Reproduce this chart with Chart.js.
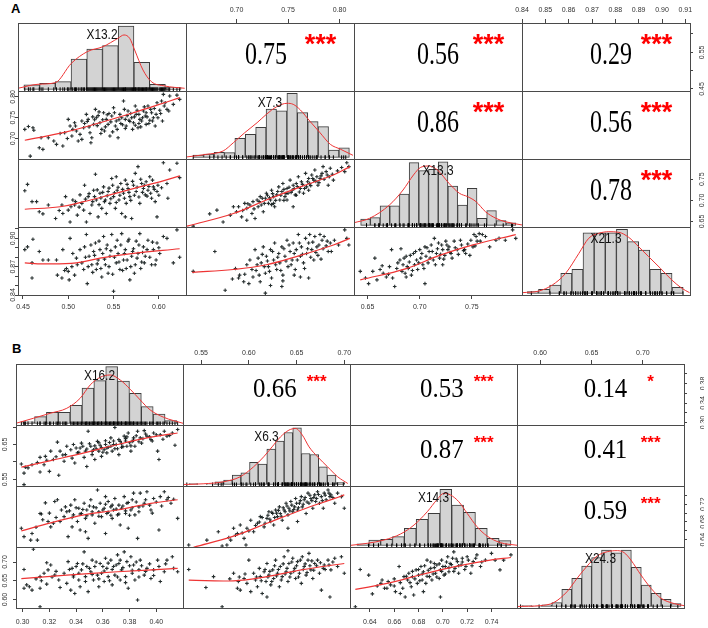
<!DOCTYPE html>
<html>
<head>
<meta charset="utf-8">
<script src="https://cdn.jsdelivr.net/npm/chart.js@4.4.1/dist/chart.umd.min.js"></script>
<style>
  body { margin: 0; background: #fff; width: 708px; height: 628px; overflow: hidden; position: relative; }
  canvas { position: absolute; }
  .tag { position: absolute; font: bold 13px "Liberation Sans", Arial, sans-serif; line-height: 13px; }
</style>
</head>
<body>
<div class="tag" style="left:11px; top:2px">A</div>
<div class="tag" style="left:12px; top:342px">B</div>
<script>
// ---------- panel A ----------
const varsA = ['X13.2', 'X7.3', 'X13.3', 'X21.3'];
const rangesA = [[0.4445, 0.630], [0.651, 0.814], [0.637, 0.798], [0.840, 0.912]];
const ticksA = [[0.45, 0.50, 0.55, 0.60], [0.70, 0.75, 0.80], [0.65, 0.70, 0.75], [0.84, 0.85, 0.86, 0.87, 0.88, 0.89, 0.90, 0.91]];
const xLabelsA = [['0.45', '0.50', '0.55', '0.60'], ['0.70', '0.75', '0.80'], ['0.65', '0.70', '0.75'],
  ['0.84', '0.85', '0.86', '0.87', '0.88', '0.89', '0.90', '0.91']];
const yLabelsA = [['0.45', '', '0.55', ''], ['0.70', '0.75', '0.80'], ['0.65', '0.70', '0.75'],
  ['0.84', '', '', '0.87', '', '', '0.90', '']];
const rA = [0.75, 0.56, 0.29, 0.86, 0.56, 0.78];
const starsA = ['***', '***', '***', '***', '***', '***'];

// histogram bars, heights in % of panel height
const histStartA = [0.451, 0.658, 0.6434, 0.8423];
const histWidthA = [0.01736, 0.0101, 0.00929, 0.00477];
const histA = [
  [6.4, 8.8, 11.3, 44.6, 59.3, 64.2, 93.1, 39.7, 7.4, 2.5],
  [3.4, 4.9, 7.4, 6.8, 27.9, 33.8, 44.1, 71.0, 68.5, 94.1, 65.6, 52.4, 45.0, 10.7, 14.1],
  [9.3, 11.2, 28.8, 28.8, 46.0, 92.1, 80.3, 82.4, 93.5, 57.8, 29.9, 54.4, 10.3, 21.5, 6.8, 3.8],
  [2.4, 5.9, 12.2, 29.4, 35.3, 89.1, 89.1, 89.1, 94.1, 75.9, 63.7, 35.3, 29.4, 8.8]
];
const densA = [
  [[0.4445, 1.5], [0.4666, 7.4], [0.4857, 9.8], [0.5034, 38.2], [0.5210, 55.4], [0.5383, 62.7], [0.5549, 75.0], [0.5615, 79.9], [0.5678, 75.0], [0.5733, 57.8], [0.5825, 28.4], [0.5917, 11.3], [0.6064, 4.9], [0.6285, 1.5]],
  [[0.651, 0.4], [0.671, 4.4], [0.687, 9.3], [0.697, 21.5], [0.708, 36.2], [0.720, 50.9], [0.729, 63.2], [0.739, 74.4], [0.749, 79.4], [0.755, 77.9], [0.762, 69.6], [0.771, 53.4], [0.781, 36.2], [0.791, 19.1], [0.801, 11.8], [0.813, 2.9]],
  [[0.637, 3.8], [0.652, 10.3], [0.671, 29.9], [0.684, 51.9], [0.694, 74.0], [0.701, 85.3], [0.709, 87.2], [0.717, 81.3], [0.728, 61.8], [0.738, 47.1], [0.746, 42.1], [0.754, 34.7], [0.763, 20.0], [0.773, 10.3], [0.782, 5.3], [0.798, 0.5]],
  [[0.840, 0.9], [0.8473, 3.4], [0.853, 12.2], [0.8587, 29.4], [0.8644, 58.8], [0.8686, 80.9], [0.8729, 88.2], [0.8772, 90.6], [0.8815, 89.7], [0.8857, 82.4], [0.890, 68.5], [0.8943, 53.8], [0.8993, 36.8], [0.9042, 19.6], [0.9085, 7.4], [0.9118, 0.9]]
];

const a21 = [[0.452,0.722],[0.456,0.729],[0.461,0.726],[0.462,0.720],[0.458,0.658],[0.468,0.678],[0.472,0.674],[0.470,0.702],[0.478,0.702],[0.487,0.686],[0.494,0.682],[0.496,0.714],[0.500,0.746],[0.502,0.730],[0.504,0.706],[0.507,0.738],[0.509,0.718],[0.513,0.710],[0.515,0.698],[0.517,0.726],[0.520,0.758],[0.522,0.746],[0.524,0.714],[0.526,0.702],[0.528,0.734],[0.530,0.770],[0.531,0.750],[0.535,0.738],[0.537,0.722],[0.539,0.762],[0.542,0.746],[0.544,0.734],[0.546,0.706],[0.548,0.754],[0.550,0.774],[0.552,0.730],[0.553,0.742],[0.555,0.702],[0.557,0.758],[0.561,0.790],[0.563,0.746],[0.564,0.730],[0.566,0.766],[0.570,0.750],[0.572,0.738],[0.574,0.778],[0.575,0.758],[0.577,0.726],[0.579,0.746],[0.583,0.766],[0.585,0.754],[0.586,0.734],[0.588,0.778],[0.592,0.762],[0.594,0.750],[0.596,0.730],[0.598,0.786],[0.601,0.768],[0.603,0.790],[0.605,0.806],[0.609,0.770],[0.612,0.802],[0.616,0.782],[0.620,0.804],[0.623,0.794],[0.533,0.755],[0.541,0.728],[0.549,0.716],[0.556,0.745],[0.560,0.733],[0.565,0.755],[0.568,0.741],[0.571,0.722],[0.576,0.768],[0.581,0.742],[0.584,0.776],[0.590,0.744],[0.595,0.772],[0.587,0.752],[0.578,0.736],[0.562,0.770],[0.545,0.760],[0.536,0.712],[0.525,0.690],[0.511,0.694],[0.505,0.722],[0.518,0.736],[0.529,0.745],[0.597,0.758],[0.606,0.778],
  [0.521,0.741],[0.523,0.728],[0.527,0.752],[0.532,0.731],[0.534,0.764],[0.538,0.745],[0.540,0.718],[0.543,0.757],[0.547,0.740],[0.551,0.762],[0.554,0.722],[0.558,0.736],[0.559,0.750],[0.563,0.724],[0.567,0.744],[0.569,0.760],[0.573,0.752],[0.574,0.732],[0.578,0.758],[0.580,0.728],[0.582,0.750],[0.586,0.762],[0.589,0.736],[0.591,0.770],[0.593,0.742],[0.599,0.750],[0.602,0.760],[0.604,0.742],[0.607,0.786],[0.611,0.766],[0.515,0.742],[0.508,0.730],[0.499,0.700],[0.491,0.712],[0.484,0.694]];
const a31 = [[0.452,0.723],[0.455,0.738],[0.460,0.697],[0.465,0.697],[0.468,0.673],[0.472,0.668],[0.478,0.689],[0.486,0.657],[0.493,0.689],[0.494,0.669],[0.497,0.709],[0.500,0.677],[0.502,0.649],[0.505,0.701],[0.507,0.689],[0.510,0.665],[0.513,0.713],[0.515,0.693],[0.517,0.677],[0.518,0.736],[0.520,0.649],[0.522,0.709],[0.524,0.669],[0.526,0.689],[0.528,0.724],[0.530,0.762],[0.531,0.701],[0.533,0.661],[0.535,0.717],[0.537,0.681],[0.539,0.732],[0.541,0.701],[0.542,0.669],[0.544,0.721],[0.546,0.693],[0.548,0.752],[0.549,0.736],[0.550,0.709],[0.552,0.681],[0.553,0.756],[0.554,0.724],[0.556,0.701],[0.558,0.740],[0.559,0.669],[0.561,0.717],[0.563,0.748],[0.564,0.693],[0.566,0.728],[0.568,0.709],[0.570,0.657],[0.572,0.736],[0.574,0.764],[0.575,0.721],[0.577,0.780],[0.579,0.693],[0.581,0.740],[0.583,0.728],[0.585,0.713],[0.586,0.744],[0.588,0.724],[0.590,0.756],[0.592,0.705],[0.594,0.732],[0.596,0.697],[0.598,0.721],[0.599,0.736],[0.605,0.789],[0.609,0.740],[0.612,0.772],[0.620,0.788],[0.623,0.754],[0.610,0.705],[0.598,0.661],[0.563,0.661],
  [0.519,0.703],[0.523,0.716],[0.527,0.697],[0.529,0.709],[0.532,0.725],[0.534,0.690],[0.536,0.706],[0.538,0.719],[0.540,0.697],[0.543,0.711],[0.545,0.729],[0.547,0.704],[0.551,0.718],[0.553,0.695],[0.555,0.731],[0.557,0.712],[0.560,0.726],[0.562,0.705],[0.565,0.738],[0.567,0.719],[0.569,0.700],[0.571,0.745],[0.573,0.712],[0.576,0.731],[0.578,0.708],[0.580,0.750],[0.582,0.719],[0.584,0.736],[0.587,0.710],[0.589,0.733],[0.591,0.717],[0.593,0.748],[0.595,0.726],[0.600,0.712],[0.603,0.730],[0.512,0.684],[0.508,0.697],[0.503,0.685],[0.490,0.676]];
const a41 = [[0.452,0.888],[0.455,0.891],[0.461,0.899],[0.460,0.874],[0.460,0.858],[0.468,0.886],[0.472,0.877],[0.478,0.877],[0.487,0.877],[0.493,0.858],[0.494,0.888],[0.498,0.868],[0.500,0.865],[0.501,0.856],[0.502,0.900],[0.504,0.870],[0.507,0.861],[0.509,0.879],[0.513,0.888],[0.515,0.874],[0.517,0.867],[0.518,0.891],[0.520,0.904],[0.521,0.852],[0.523,0.881],[0.526,0.872],[0.528,0.886],[0.530,0.895],[0.531,0.867],[0.533,0.877],[0.535,0.888],[0.537,0.859],[0.539,0.902],[0.541,0.872],[0.542,0.889],[0.544,0.863],[0.546,0.881],[0.548,0.904],[0.550,0.844],[0.552,0.891],[0.553,0.874],[0.554,0.898],[0.555,0.884],[0.557,0.867],[0.559,0.905],[0.561,0.877],[0.563,0.888],[0.564,0.868],[0.566,0.897],[0.568,0.856],[0.570,0.881],[0.572,0.889],[0.574,0.872],[0.575,0.897],[0.577,0.884],[0.579,0.905],[0.581,0.875],[0.583,0.891],[0.585,0.881],[0.588,0.898],[0.592,0.872],[0.594,0.888],[0.596,0.872],[0.598,0.895],[0.601,0.884],[0.605,0.902],[0.609,0.900],[0.616,0.874],[0.620,0.909],[0.623,0.880],
  [0.519,0.880],[0.522,0.870],[0.525,0.893],[0.527,0.864],[0.529,0.882],[0.532,0.873],[0.534,0.897],[0.536,0.868],[0.538,0.884],[0.540,0.878],[0.543,0.893],[0.545,0.870],[0.547,0.887],[0.549,0.862],[0.551,0.880],[0.556,0.875],[0.558,0.893],[0.560,0.866],[0.562,0.884],[0.565,0.877],[0.567,0.899],[0.569,0.870],[0.571,0.886],[0.573,0.863],[0.576,0.879],[0.578,0.893],[0.580,0.868],[0.582,0.885],[0.584,0.874],[0.587,0.888],[0.590,0.880],[0.593,0.896],[0.597,0.877],[0.600,0.890],[0.510,0.872],[0.505,0.884],[0.496,0.866],[0.488,0.861]];
const a32 = [[0.658,0.639],[0.674,0.668],[0.681,0.677],[0.687,0.649],[0.694,0.665],[0.697,0.685],[0.700,0.673],[0.702,0.685],[0.705,0.661],[0.708,0.693],[0.710,0.681],[0.710,0.653],[0.713,0.689],[0.715,0.669],[0.716,0.697],[0.718,0.657],[0.720,0.701],[0.721,0.685],[0.723,0.709],[0.724,0.689],[0.726,0.673],[0.728,0.705],[0.729,0.717],[0.731,0.693],[0.733,0.701],[0.734,0.724],[0.736,0.709],[0.736,0.693],[0.737,0.685],[0.739,0.713],[0.741,0.732],[0.742,0.701],[0.744,0.721],[0.745,0.740],[0.747,0.709],[0.749,0.728],[0.749,0.701],[0.750,0.717],[0.752,0.748],[0.754,0.724],[0.755,0.736],[0.755,0.685],[0.757,0.713],[0.758,0.740],[0.760,0.756],[0.762,0.728],[0.763,0.744],[0.765,0.717],[0.767,0.764],[0.768,0.732],[0.770,0.752],[0.771,0.740],[0.773,0.760],[0.775,0.748],[0.776,0.772],[0.778,0.756],[0.779,0.736],[0.781,0.752],[0.783,0.764],[0.784,0.780],[0.788,0.760],[0.789,0.736],[0.791,0.776],[0.794,0.748],[0.805,0.768],[0.807,0.789],[0.809,0.780],
  [0.722,0.697],[0.725,0.705],[0.727,0.693],[0.730,0.712],[0.732,0.706],[0.735,0.716],[0.738,0.700],[0.740,0.721],[0.743,0.712],[0.746,0.726],[0.748,0.716],[0.751,0.731],[0.753,0.719],[0.756,0.728],[0.759,0.733],[0.761,0.720],[0.764,0.738],[0.766,0.728],[0.769,0.744],[0.772,0.735],[0.774,0.752],[0.777,0.745],[0.780,0.742],[0.782,0.758],[0.785,0.750],[0.787,0.768],[0.790,0.756],[0.793,0.762],[0.746,0.700],[0.758,0.712],[0.770,0.724],[0.734,0.690],[0.717,0.680],[0.711,0.692],[0.706,0.676],[0.798,0.770],[0.802,0.778]];
const a42 = [[0.658,0.865],[0.679,0.886],[0.689,0.845],[0.699,0.868],[0.702,0.858],[0.703,0.861],[0.707,0.854],[0.710,0.872],[0.712,0.852],[0.713,0.877],[0.715,0.867],[0.716,0.859],[0.718,0.888],[0.720,0.872],[0.721,0.879],[0.723,0.854],[0.724,0.874],[0.726,0.891],[0.728,0.863],[0.728,0.842],[0.729,0.881],[0.731,0.870],[0.733,0.888],[0.734,0.858],[0.736,0.877],[0.737,0.895],[0.739,0.867],[0.741,0.884],[0.742,0.874],[0.744,0.891],[0.744,0.849],[0.745,0.861],[0.747,0.881],[0.749,0.898],[0.750,0.870],[0.752,0.886],[0.754,0.877],[0.755,0.895],[0.757,0.867],[0.758,0.888],[0.760,0.904],[0.762,0.881],[0.762,0.859],[0.763,0.891],[0.765,0.874],[0.767,0.900],[0.768,0.884],[0.770,0.895],[0.770,0.858],[0.771,0.904],[0.773,0.888],[0.775,0.877],[0.776,0.902],[0.778,0.891],[0.779,0.882],[0.781,0.904],[0.783,0.898],[0.784,0.889],[0.788,0.897],[0.789,0.886],[0.791,0.895],[0.805,0.909],[0.807,0.900],[0.809,0.893],
  [0.719,0.866],[0.722,0.861],[0.725,0.883],[0.727,0.870],[0.730,0.876],[0.732,0.865],[0.735,0.886],[0.738,0.872],[0.740,0.880],[0.743,0.866],[0.746,0.889],[0.748,0.876],[0.751,0.893],[0.753,0.872],[0.756,0.884],[0.759,0.877],[0.761,0.895],[0.764,0.883],[0.766,0.868],[0.769,0.889],[0.772,0.880],[0.774,0.896],[0.777,0.885],[0.780,0.893],[0.782,0.878],[0.785,0.902],[0.787,0.892],[0.792,0.886],[0.795,0.898],[0.799,0.893],[0.733,0.850],[0.745,0.855],[0.756,0.861],[0.708,0.862],[0.696,0.857]];
const a43 = [[0.643,0.865],[0.651,0.852],[0.657,0.879],[0.659,0.856],[0.662,0.867],[0.665,0.863],[0.668,0.859],[0.671,0.870],[0.673,0.888],[0.674,0.858],[0.676,0.849],[0.678,0.868],[0.681,0.877],[0.682,0.889],[0.684,0.872],[0.686,0.863],[0.687,0.881],[0.687,0.859],[0.689,0.868],[0.690,0.875],[0.692,0.861],[0.694,0.884],[0.695,0.872],[0.697,0.877],[0.698,0.867],[0.700,0.888],[0.701,0.879],[0.703,0.872],[0.705,0.891],[0.705,0.852],[0.706,0.881],[0.708,0.874],[0.709,0.886],[0.711,0.893],[0.713,0.877],[0.714,0.900],[0.716,0.884],[0.717,0.889],[0.719,0.879],[0.721,0.893],[0.722,0.888],[0.722,0.872],[0.724,0.882],[0.725,0.897],[0.727,0.888],[0.728,0.891],[0.730,0.884],[0.733,0.897],[0.736,0.888],[0.740,0.893],[0.743,0.888],[0.744,0.884],[0.749,0.898],[0.751,0.891],[0.752,0.904],[0.754,0.902],[0.755,0.897],[0.757,0.905],[0.760,0.904],[0.767,0.891],[0.773,0.898],[0.776,0.900],[0.782,0.898],[0.789,0.909],[0.792,0.900],
  [0.679,0.874],[0.683,0.865],[0.685,0.879],[0.688,0.870],[0.691,0.882],[0.693,0.866],[0.696,0.886],[0.699,0.874],[0.702,0.884],[0.704,0.868],[0.707,0.890],[0.710,0.879],[0.712,0.886],[0.715,0.872],[0.718,0.895],[0.720,0.883],[0.723,0.878],[0.726,0.893],[0.729,0.885],[0.731,0.879],[0.734,0.890],[0.737,0.883],[0.739,0.898],[0.742,0.887],[0.746,0.894],[0.748,0.882],[0.753,0.892],[0.758,0.897],[0.763,0.902],[0.670,0.862],[0.664,0.871],[0.655,0.865],[0.648,0.858]];
// red smoothers
const a21Fit = [[0.452,0.696],[0.498,0.716],[0.535,0.738],[0.572,0.762],[0.598,0.780],[0.623,0.798]];
const a31Fit = [[0.452,0.679],[0.491,0.685],[0.517,0.697],[0.546,0.713],[0.579,0.732],[0.601,0.744],[0.623,0.758]];
const a41Fit = [[0.452,0.874],[0.472,0.873],[0.509,0.874],[0.535,0.879],[0.572,0.884],[0.623,0.889]];
const a32Fit = [[0.652,0.639],[0.697,0.669],[0.729,0.701],[0.762,0.732],[0.794,0.760],[0.810,0.780]];
const a42Fit = [[0.657,0.864],[0.697,0.867],[0.729,0.872],[0.762,0.882],[0.794,0.893],[0.810,0.900]];
const a43Fit = [[0.643,0.856],[0.687,0.868],[0.719,0.882],[0.751,0.893],[0.792,0.904]];

// ---------- panel B ----------
const varsB = ['X16.2', 'X6.3', 'X14.3', 'X24.3'];
const rangesB = [[0.295, 0.420], [0.531, 0.706], [0.6236, 0.761], [0.5775, 0.740]];
const ticksB = [[0.30, 0.32, 0.34, 0.36, 0.38, 0.40], [0.55, 0.60, 0.65, 0.70], [0.64, 0.66, 0.68, 0.70, 0.72, 0.74], [0.60, 0.65, 0.70]];
const xLabelsB = [['0.30', '0.32', '0.34', '0.36', '0.38', '0.40'], ['0.55', '0.60', '0.65', '0.70'],
  ['0.64', '0.66', '0.68', '0.70', '0.72', '0.74'], ['0.60', '0.65', '0.70']];
const yLabelsB = [['0.30', '', '0.34', '', '0.38', ''], ['0.55', '', '0.65', ''],
  ['0.64', '', '0.68', '', '0.72', ''], ['0.60', '0.65', '0.70']];
const rB = [0.66, 0.53, 0.14, 0.87, 0.41, 0.59];
const starsB = ['***', '***', '*', '***', '***', '***'];

const histStartB = [0.300, 0.5373, 0.6293, 0.5824];
const histWidthB = [0.00888, 0.00906, 0.00975, 0.00967];
const histB = [
  [2.5, 11.2, 18.3, 18.3, 29.8, 58.2, 70.2, 93.1, 69.7, 49.5, 27.5, 15.6, 4.6],
  [1.5, 0.0, 0.8, 4.4, 7.1, 15.3, 19.1, 36.1, 33.3, 57.9, 71.0, 85.2, 92.9, 50.8, 49.2, 29.0, 15.3, 3.3],
  [2.5, 9.0, 10.1, 14.4, 28.2, 42.9, 52.7, 92.1, 66.4, 54.4, 28.2, 11.8, 7.9],
  [1.4, 0.8, 2.5, 6.3, 28.2, 46.2, 66.4, 80.0, 92.6, 88.0, 92.6, 64.2, 35.2, 21.6, 11.8, 4.6]
];
const densB = [
  [[0.295, 0.3], [0.308, 8.5], [0.3205, 16.7], [0.333, 24.9], [0.343, 41.3], [0.3505, 63.1], [0.358, 75.7], [0.3655, 79.5], [0.373, 71.3], [0.3805, 56.1], [0.388, 38.5], [0.3955, 22.1], [0.4055, 10.2], [0.420, 0.3]],
  [[0.531, 0.0], [0.5521, 1.1], [0.5733, 4.4], [0.5909, 12.6], [0.605, 29.0], [0.6156, 45.4], [0.6244, 61.7], [0.6332, 78.1], [0.642, 89.1], [0.649, 91.8], [0.6561, 80.9], [0.6631, 61.7], [0.672, 45.4], [0.6825, 29.0], [0.6931, 12.6], [0.7037, 1.6]],
  [[0.6244, 0.3], [0.638, 3.6], [0.6517, 9.0], [0.6653, 18.9], [0.6763, 33.6], [0.6872, 55.4], [0.6954, 75.7], [0.7008, 85.5], [0.7063, 82.8], [0.7131, 71.8], [0.720, 52.7], [0.7281, 30.8], [0.7363, 15.6], [0.7472, 4.7], [0.7612, 0.3]],
  [[0.5775, 0.0], [0.6001, 1.4], [0.6132, 6.3], [0.6262, 24.3], [0.636, 46.2], [0.6458, 66.4], [0.6556, 82.8], [0.6654, 89.8], [0.6752, 91.5], [0.6818, 88.2], [0.6883, 76.2], [0.6981, 51.6], [0.7079, 29.8], [0.7177, 13.4], [0.7308, 4.6], [0.7413, 1.0]]
];

const b21 = [[0.299,0.594],[0.301,0.568],[0.302,0.585],[0.301,0.535],[0.304,0.583],[0.307,0.592],[0.313,0.613],[0.313,0.571],[0.316,0.592],[0.317,0.616],[0.320,0.573],[0.321,0.631],[0.323,0.607],[0.326,0.657],[0.327,0.562],[0.328,0.631],[0.331,0.602],[0.332,0.621],[0.333,0.645],[0.336,0.635],[0.337,0.611],[0.338,0.650],[0.339,0.597],[0.341,0.626],[0.343,0.640],[0.344,0.654],[0.346,0.613],[0.347,0.631],[0.348,0.587],[0.349,0.688],[0.351,0.645],[0.352,0.621],[0.353,0.635],[0.354,0.607],[0.356,0.659],[0.357,0.631],[0.358,0.648],[0.359,0.616],[0.361,0.635],[0.362,0.661],[0.363,0.626],[0.364,0.642],[0.366,0.669],[0.367,0.631],[0.368,0.650],[0.369,0.699],[0.371,0.638],[0.372,0.621],[0.373,0.659],[0.374,0.642],[0.376,0.674],[0.377,0.667],[0.378,0.645],[0.379,0.683],[0.381,0.631],[0.382,0.659],[0.383,0.669],[0.384,0.645],[0.386,0.688],[0.388,0.669],[0.389,0.654],[0.391,0.690],[0.393,0.674],[0.396,0.664],[0.398,0.683],[0.401,0.631],[0.402,0.607],[0.403,0.678],[0.406,0.688],[0.408,0.674],[0.412,0.683],[0.414,0.648],[0.416,0.693],
  [0.340,0.640],[0.342,0.628],[0.345,0.645],[0.348,0.637],[0.350,0.652],[0.352,0.630],[0.354,0.646],[0.355,0.638],[0.357,0.655],[0.359,0.641],[0.360,0.628],[0.362,0.650],[0.363,0.640],[0.365,0.656],[0.366,0.645],[0.368,0.660],[0.369,0.638],[0.370,0.650],[0.372,0.664],[0.374,0.652],[0.375,0.644],[0.377,0.660],[0.378,0.672],[0.380,0.655],[0.381,0.646],[0.383,0.662],[0.385,0.675],[0.387,0.658],[0.390,0.667],[0.392,0.680],[0.395,0.672],[0.397,0.660],[0.400,0.678],[0.405,0.665],[0.410,0.676],[0.330,0.620],[0.325,0.615],[0.318,0.605],[0.311,0.598]];
const b31 = [[0.299,0.666],[0.301,0.647],[0.306,0.639],[0.307,0.654],[0.311,0.639],[0.313,0.699],[0.314,0.698],[0.317,0.723],[0.319,0.681],[0.321,0.669],[0.323,0.677],[0.324,0.726],[0.326,0.730],[0.328,0.681],[0.329,0.707],[0.331,0.692],[0.332,0.714],[0.333,0.703],[0.334,0.647],[0.336,0.718],[0.337,0.669],[0.338,0.696],[0.339,0.730],[0.341,0.681],[0.342,0.711],[0.343,0.662],[0.344,0.699],[0.346,0.722],[0.347,0.688],[0.347,0.658],[0.348,0.707],[0.349,0.643],[0.351,0.730],[0.352,0.696],[0.353,0.714],[0.354,0.677],[0.356,0.752],[0.357,0.703],[0.358,0.722],[0.359,0.692],[0.361,0.711],[0.362,0.737],[0.362,0.654],[0.363,0.699],[0.364,0.726],[0.366,0.714],[0.367,0.688],[0.368,0.707],[0.369,0.733],[0.371,0.696],[0.372,0.718],[0.373,0.673],[0.374,0.711],[0.376,0.737],[0.377,0.699],[0.378,0.722],[0.379,0.666],[0.381,0.707],[0.382,0.730],[0.383,0.745],[0.384,0.696],[0.386,0.643],[0.387,0.714],[0.388,0.745],[0.391,0.722],[0.393,0.748],[0.396,0.707],[0.398,0.733],[0.402,0.662],[0.403,0.737],[0.406,0.748],[0.408,0.730],[0.411,0.722],[0.413,0.731],[0.416,0.688],
  [0.335,0.705],[0.337,0.690],[0.340,0.712],[0.343,0.698],[0.345,0.708],[0.348,0.694],[0.350,0.716],[0.352,0.703],[0.355,0.712],[0.357,0.693],[0.360,0.707],[0.362,0.720],[0.364,0.702],[0.366,0.695],[0.367,0.718],[0.370,0.709],[0.372,0.698],[0.375,0.716],[0.377,0.705],[0.379,0.724],[0.380,0.695],[0.382,0.712],[0.385,0.725],[0.387,0.703],[0.390,0.716],[0.392,0.730],[0.395,0.718],[0.397,0.700],[0.400,0.725],[0.404,0.716],[0.409,0.735],[0.325,0.690],[0.320,0.700],[0.315,0.685],[0.310,0.668]];
const b41 = [[0.301,0.680],[0.301,0.630],[0.303,0.639],[0.305,0.634],[0.307,0.625],[0.308,0.734],[0.313,0.661],[0.313,0.630],[0.313,0.581],[0.314,0.650],[0.318,0.698],[0.318,0.641],[0.319,0.679],[0.321,0.692],[0.324,0.665],[0.327,0.652],[0.328,0.632],[0.331,0.670],[0.333,0.643],[0.334,0.701],[0.336,0.625],[0.337,0.683],[0.338,0.665],[0.339,0.616],[0.341,0.696],[0.342,0.652],[0.343,0.634],[0.344,0.679],[0.346,0.727],[0.347,0.661],[0.348,0.688],[0.349,0.621],[0.351,0.674],[0.352,0.705],[0.353,0.652],[0.354,0.688],[0.356,0.665],[0.357,0.634],[0.358,0.696],[0.359,0.670],[0.361,0.648],[0.362,0.710],[0.363,0.683],[0.364,0.661],[0.366,0.705],[0.367,0.639],[0.368,0.688],[0.369,0.665],[0.371,0.719],[0.372,0.696],[0.373,0.652],[0.374,0.679],[0.376,0.727],[0.377,0.661],[0.378,0.701],[0.379,0.630],[0.381,0.714],[0.382,0.670],[0.383,0.692],[0.384,0.652],[0.386,0.599],[0.387,0.679],[0.388,0.705],[0.391,0.665],[0.393,0.683],[0.396,0.656],[0.398,0.679],[0.401,0.705],[0.403,0.648],[0.406,0.674],[0.408,0.705],[0.412,0.714],[0.413,0.683],[0.416,0.674],
  [0.335,0.680],[0.338,0.660],[0.340,0.688],[0.342,0.670],[0.345,0.695],[0.347,0.648],[0.350,0.683],[0.352,0.667],[0.355,0.700],[0.357,0.655],[0.360,0.688],[0.361,0.676],[0.364,0.697],[0.365,0.650],[0.367,0.680],[0.370,0.692],[0.371,0.660],[0.373,0.705],[0.375,0.685],[0.377,0.645],[0.380,0.690],[0.382,0.678],[0.385,0.700],[0.387,0.660],[0.389,0.690],[0.392,0.675],[0.395,0.695],[0.398,0.664],[0.402,0.688],[0.407,0.695],[0.325,0.675],[0.322,0.660],[0.316,0.670],[0.310,0.655]];
const b32 = [[0.537,0.628],[0.556,0.639],[0.568,0.658],[0.572,0.626],[0.577,0.628],[0.581,0.639],[0.584,0.666],[0.588,0.654],[0.591,0.673],[0.595,0.643],[0.597,0.628],[0.598,0.666],[0.602,0.684],[0.605,0.658],[0.609,0.677],[0.612,0.692],[0.616,0.669],[0.619,0.688],[0.621,0.703],[0.623,0.681],[0.625,0.699],[0.626,0.673],[0.628,0.707],[0.630,0.692],[0.632,0.714],[0.633,0.699],[0.635,0.684],[0.637,0.707],[0.639,0.722],[0.641,0.696],[0.641,0.666],[0.642,0.711],[0.644,0.726],[0.646,0.703],[0.648,0.714],[0.649,0.733],[0.651,0.707],[0.651,0.681],[0.653,0.722],[0.655,0.737],[0.656,0.714],[0.658,0.730],[0.660,0.699],[0.662,0.745],[0.663,0.722],[0.665,0.733],[0.667,0.711],[0.669,0.741],[0.670,0.726],[0.672,0.748],[0.674,0.722],[0.676,0.737],[0.678,0.711],[0.679,0.745],[0.681,0.730],[0.683,0.752],[0.685,0.737],[0.686,0.741],[0.690,0.722],[0.693,0.745],[0.697,0.737],[0.700,0.711],
  [0.607,0.672],[0.611,0.680],[0.614,0.690],[0.617,0.677],[0.620,0.695],[0.622,0.686],[0.624,0.702],[0.627,0.690],[0.629,0.700],[0.631,0.706],[0.634,0.693],[0.636,0.712],[0.638,0.703],[0.640,0.716],[0.643,0.705],[0.645,0.718],[0.647,0.708],[0.650,0.722],[0.652,0.712],[0.654,0.728],[0.657,0.720],[0.659,0.735],[0.661,0.725],[0.664,0.740],[0.666,0.728],[0.668,0.735],[0.671,0.733],[0.673,0.742],[0.677,0.728],[0.680,0.740],[0.684,0.745],[0.688,0.735],[0.600,0.660],[0.593,0.655],[0.586,0.650],[0.579,0.645]];
const b42 = [[0.537,0.680],[0.555,0.632],[0.563,0.661],[0.572,0.581],[0.584,0.670],[0.588,0.630],[0.589,0.648],[0.591,0.625],[0.595,0.656],[0.598,0.643],[0.600,0.705],[0.602,0.621],[0.605,0.670],[0.607,0.652],[0.609,0.634],[0.611,0.683],[0.612,0.661],[0.614,0.616],[0.616,0.674],[0.618,0.648],[0.619,0.696],[0.619,0.607],[0.621,0.665],[0.623,0.639],[0.625,0.679],[0.626,0.656],[0.628,0.705],[0.630,0.670],[0.632,0.634],[0.633,0.688],[0.635,0.661],[0.637,0.714],[0.639,0.674],[0.641,0.648],[0.641,0.730],[0.642,0.696],[0.644,0.670],[0.646,0.710],[0.648,0.683],[0.649,0.656],[0.651,0.701],[0.653,0.670],[0.655,0.643],[0.656,0.714],[0.658,0.688],[0.660,0.665],[0.662,0.705],[0.663,0.723],[0.665,0.679],[0.667,0.656],[0.669,0.696],[0.672,0.705],[0.674,0.670],[0.676,0.625],[0.678,0.683],[0.679,0.692],[0.683,0.705],[0.685,0.607],[0.686,0.679],[0.690,0.710],[0.693,0.688],[0.697,0.714],[0.700,0.670],
  [0.608,0.660],[0.613,0.650],[0.617,0.680],[0.620,0.660],[0.622,0.675],[0.624,0.648],[0.627,0.690],[0.629,0.663],[0.631,0.680],[0.634,0.652],[0.636,0.695],[0.638,0.668],[0.640,0.683],[0.643,0.660],[0.645,0.700],[0.647,0.675],[0.650,0.690],[0.652,0.660],[0.654,0.705],[0.657,0.680],[0.659,0.695],[0.661,0.672],[0.664,0.690],[0.666,0.703],[0.668,0.678],[0.671,0.690],[0.675,0.698],[0.680,0.680],[0.684,0.692],[0.688,0.700],[0.596,0.668],[0.590,0.660],[0.580,0.655]];
const b43 = [[0.628,0.581],[0.632,0.680],[0.639,0.665],[0.642,0.615],[0.646,0.636],[0.649,0.643],[0.652,0.630],[0.654,0.630],[0.657,0.639],[0.660,0.636],[0.661,0.621],[0.664,0.688],[0.665,0.616],[0.667,0.630],[0.668,0.661],[0.669,0.607],[0.671,0.652],[0.672,0.670],[0.674,0.634],[0.675,0.661],[0.676,0.612],[0.678,0.679],[0.679,0.643],[0.680,0.665],[0.682,0.688],[0.683,0.652],[0.684,0.674],[0.684,0.621],[0.686,0.643],[0.687,0.705],[0.689,0.661],[0.690,0.683],[0.691,0.652],[0.693,0.696],[0.694,0.670],[0.695,0.692],[0.697,0.656],[0.698,0.679],[0.698,0.607],[0.699,0.705],[0.701,0.665],[0.702,0.688],[0.704,0.714],[0.705,0.674],[0.706,0.696],[0.708,0.710],[0.709,0.727],[0.710,0.683],[0.712,0.701],[0.713,0.670],[0.715,0.692],[0.716,0.710],[0.719,0.688],[0.720,0.714],[0.723,0.670],[0.725,0.701],[0.728,0.719],[0.731,0.688],[0.735,0.705],[0.740,0.723],[0.743,0.705],[0.747,0.679],[0.750,0.705],[0.756,0.719],
  [0.670,0.662],[0.673,0.645],[0.675,0.675],[0.677,0.655],[0.680,0.680],[0.681,0.650],[0.683,0.668],[0.685,0.690],[0.687,0.662],[0.688,0.678],[0.690,0.700],[0.692,0.668],[0.693,0.685],[0.695,0.660],[0.697,0.695],[0.699,0.675],[0.700,0.688],[0.702,0.668],[0.703,0.700],[0.705,0.685],[0.707,0.693],[0.709,0.675],[0.711,0.708],[0.713,0.690],[0.716,0.700],[0.718,0.680],[0.721,0.705],[0.724,0.690],[0.727,0.710],[0.732,0.700],[0.665,0.645],[0.660,0.655],[0.655,0.648],[0.650,0.652]];
const b21Fit = [[0.299,0.585],[0.321,0.604],[0.346,0.626],[0.371,0.650],[0.396,0.671],[0.416,0.683]];
const b31Fit = [[0.299,0.660],[0.321,0.678],[0.346,0.696],[0.371,0.707],[0.396,0.722],[0.416,0.730]];
const b41Fit = [[0.299,0.656],[0.333,0.665],[0.371,0.674],[0.416,0.683]];
const b32Fit = [[0.542,0.623],[0.584,0.648],[0.619,0.677],[0.655,0.707],[0.690,0.733],[0.700,0.741]];
const b42Fit = [[0.537,0.652],[0.584,0.650],[0.619,0.661],[0.655,0.679],[0.700,0.696]];
const b43Fit = [[0.628,0.627],[0.657,0.645],[0.684,0.668],[0.712,0.689],[0.739,0.705],[0.756,0.712]];

// ---------- drawing ----------
const FONT = '"Liberation Sans", Arial, sans-serif';
const RED = 'rgb(238,52,52)';
const M = 28, AXH = 20, AXW = 20;

const panelPlugin = {
  id: 'panel',
  afterDatasetsDraw(chart, args, o) {
    const { ctx, chartArea: a } = chart;
    ctx.save();
    if (o.label) {
      ctx.save();
      ctx.font = '14px ' + FONT;
      ctx.fillStyle = '#111';
      ctx.textAlign = 'center';
      ctx.textBaseline = 'middle';
      ctx.translate(a.left + a.width / 2, a.top + 12.5);
      ctx.scale(0.85, 1);
      ctx.fillText(o.label, 0, 0);
      ctx.restore();
    }
    if (o.stars) {
      ctx.save();
      ctx.font = o.numSize + 'px "Liberation Serif", "Times New Roman", serif';
      ctx.fillStyle = '#000';
      ctx.textAlign = 'center';
      ctx.textBaseline = 'middle';
      ctx.translate(a.left + a.width * o.numX, a.top + a.height * o.numY);
      ctx.scale(o.numSx, 1);
      ctx.fillText(o.r.toFixed(2), 0, 0);
      ctx.restore();
      ctx.font = 'bold ' + o.starSize + 'px ' + FONT;
      ctx.fillStyle = '#ff0000';
      ctx.textAlign = 'center';
      ctx.textBaseline = 'alphabetic';
      ctx.fillText(o.stars, a.left + a.width * 0.8, a.top + o.starY + 0.59 * o.starSize);
    }
    ctx.strokeStyle = '#4a4a4a';
    ctx.lineWidth = 1;
    ctx.strokeRect(a.left + 0.5, a.top + 0.5, a.width, a.height);
    ctx.restore();
  }
};

function xAxis(m, j, show, isTop) {
  return {
    type: 'linear', min: m.ranges[j][0], max: m.ranges[j][1], offset: false,
    position: isTop ? 'top' : 'bottom', display: show,
    grid: { offset: false, drawOnChartArea: false, drawTicks: true, tickLength: 4, color: '#444', tickColor: '#444' },
    border: { display: false },
    ticks: {
      font: { size: 7, family: FONT }, color: '#333', autoSkip: false, maxRotation: 0, minRotation: 0,
      padding: isTop ? m.style.padTop : m.style.padBottom,
      callback: (v, k) => m.xLabels[j][k]
    },
    afterBuildTicks: s => { s.ticks = m.ticks[j].map(v => ({ value: v })); },
    afterFit: s => { if (show) s.height = AXH; }
  };
}

function yAxis(m, i, show, isLeft, diag) {
  if (diag) return { type: 'linear', min: -2.5, max: 97.5, display: false, beginAtZero: false };
  return {
    type: 'linear', min: m.ranges[i][0], max: m.ranges[i][1],
    position: isLeft ? 'left' : 'right', display: show,
    grid: { drawOnChartArea: false, drawTicks: true, tickLength: 3, color: '#444', tickColor: '#444' },
    border: { display: false },
    ticks: {
      font: { size: 7, family: FONT }, color: '#333', autoSkip: false, minRotation: 90, maxRotation: 90,
      crossAlign: 'center', padding: isLeft ? m.style.padLeft : m.style.padRight,
      callback: (v, k) => m.yLabels[i][k]
    },
    afterBuildTicks: s => { s.ticks = m.ticks[i].map(v => ({ value: v })); },
    afterFit: s => { if (show) s.width = AXW; }
  };
}

function rugValues(m, k) {
  return k === 0 ? m.pts[1][0].map(p => p[0]) : m.pts[k][0].map(p => p[1]);
}

function buildMatrix(m) {
  const g = m.geom;
  let c = 0;
  for (let i = 0; i < 4; i++) {
    for (let j = 0; j < 4; j++) {
      const top = i === 0 && j % 2 === 1, bottom = i === 3 && j % 2 === 0;
      const left = j === 0 && i % 2 === 1, right = j === 3 && i % 2 === 0;
      const cv = document.createElement('canvas');
      cv.width = g.w + 2 * M;
      cv.height = g.h + 2 * M;
      cv.style.left = (g.x + j * g.w - M) + 'px';
      cv.style.top = (g.y + i * g.h - M) + 'px';
      document.body.appendChild(cv);

      const datasets = [];
      const panel = {};
      if (i === j) {
        datasets.push({
          type: 'line', data: m.dens[i].map(p => ({ x: p[0], y: p[1] })),
          borderColor: RED, borderWidth: 1, pointRadius: 0, cubicInterpolationMode: 'monotone'
        });
        datasets.push({
          type: 'scatter', data: rugValues(m, i).map(v => ({ x: v, y: 0 })),
          pointStyle: 'line', pointRotation: 90, pointRadius: 2, pointBorderColor: '#000', pointBorderWidth: 1
        });
        datasets.push({
          type: 'bar',
          data: m.hist[i].map((h, k) => ({ x: m.histStart[i] + m.histWidth[i] * (k + 0.5), y: h })),
          backgroundColor: '#d3d3d3', borderColor: '#3c3c3c', borderWidth: 1, borderSkipped: false,
          barPercentage: 1, categoryPercentage: 1
        });
        panel.label = m.vars[i];
      } else if (i > j) {
        datasets.push({
          type: 'line', data: m.fits[i][j].map(p => ({ x: p[0], y: p[1] })),
          borderColor: RED, borderWidth: 1.2, pointRadius: 0, tension: 0.4
        });
        datasets.push({
          type: 'scatter', data: m.pts[i][j].map(p => ({ x: p[0], y: p[1] })),
          pointStyle: 'cross', pointRadius: 1.8, pointBorderColor: 'rgba(0,10,10,0.85)', pointBorderWidth: 1.1
        });
      } else {
        Object.assign(panel, {
          r: m.r[c], stars: m.stars[c], numX: m.style.numX[j], numY: m.style.numY,
          numSize: m.style.numSize, numSx: m.style.numSx, starSize: m.style.starSize, starY: m.style.starY
        });
        c++;
      }

      new Chart(cv, {
        type: 'scatter',
        data: { datasets },
        options: {
          responsive: false, animation: false, events: [],
          layout: {
            autoPadding: false,
            padding: { left: M - (left ? AXW : 0), right: M - (right ? AXW : 0), top: M - (top ? AXH : 0), bottom: M - (bottom ? AXH : 0) }
          },
          plugins: { legend: { display: false }, tooltip: { enabled: false }, panel },
          scales: { x: xAxis(m, j, top || bottom, top), y: yAxis(m, i, left || right, left, i === j) }
        },
        plugins: [panelPlugin]
      });
    }
  }
}

buildMatrix({
  geom: { x: 18, y: 23, w: 168, h: 68 },
  vars: varsA, ranges: rangesA, ticks: ticksA, xLabels: xLabelsA, yLabels: yLabelsA,
  histStart: histStartA, histWidth: histWidthA, hist: histA, dens: densA,
  pts: [[], [a21], [a31, a32], [a41, a42, a43]],
  fits: [[], [a21Fit], [a31Fit, a32Fit], [a41Fit, a42Fit, a43Fit]],
  r: rA, stars: starsA,
  style: { numSize: 32, numSx: 0.75, numY: 0.48, numX: [0, 0.476, 0.5, 0.53], starSize: 27, starY: 14.5,
    padTop: 4.8, padBottom: 3.8, padLeft: -5.3, padRight: 2.2 }
});

buildMatrix({
  geom: { x: 16, y: 364, w: 167, h: 61 },
  vars: varsB, ranges: rangesB, ticks: ticksB, xLabels: xLabelsB, yLabels: yLabelsB,
  histStart: histStartB, histWidth: histWidthB, hist: histB, dens: densB,
  pts: [[], [b21], [b31, b32], [b41, b42, b43]],
  fits: [[], [b21Fit], [b31Fit, b32Fit], [b41Fit, b42Fit, b43Fit]],
  r: rB, stars: starsB,
  style: { numSize: 27, numSx: 0.92, numY: 0.43, numX: [0, 0.55, 0.55, 0.53], starSize: 17, starY: 13.3,
    padTop: 2.8, padBottom: 5.8, padLeft: 1.2, padRight: 8.9 }
});
</script>
</body>
</html>
